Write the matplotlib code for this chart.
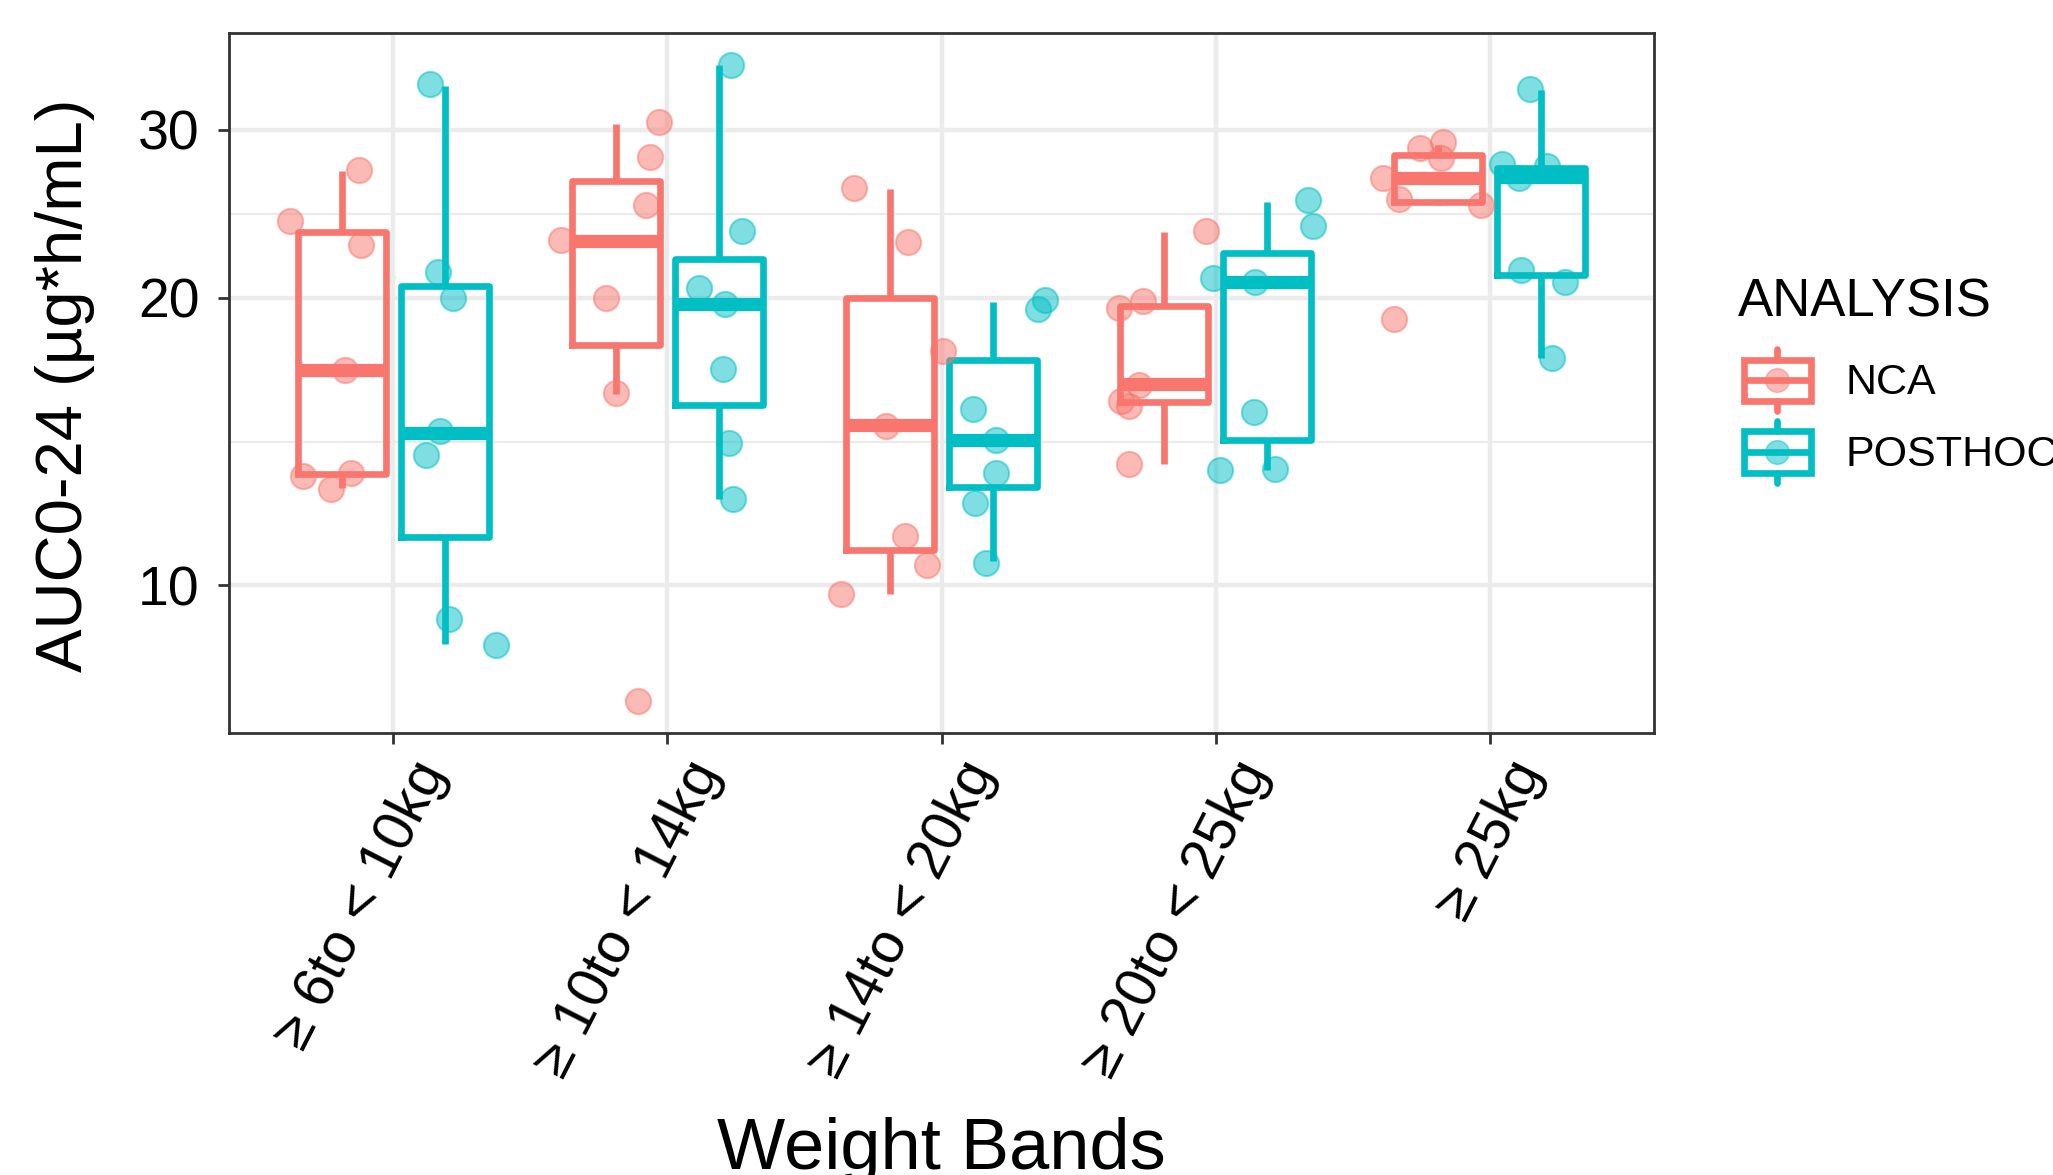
import numpy as np
import matplotlib
matplotlib.use("Agg")
import matplotlib.pyplot as plt
import matplotlib.transforms as mtransforms
from matplotlib.patches import Rectangle
from matplotlib.lines import Line2D
from matplotlib.legend_handler import HandlerBase
from matplotlib.ticker import FixedLocator, NullFormatter

plt.rcParams['font.family'] = ['Liberation Sans', 'DejaVu Sans']

# categories
bands = ["\u2265 6to < 10kg", "\u2265 10to < 14kg", "\u2265 14to < 20kg",
         "\u2265 20to < 25kg", "\u2265 25kg"]
analysis = ["NCA", "POSTHOC"]
colors = {"NCA": "#F8766D", "POSTHOC": "#00BFC4"}

# individual AUC values
nca_points = [
    [24.1, 27.2, 22.7, 16.8, 13.0, 13.1, 12.6],
    [30.6, 28.1, 25.0, 23.0, 20.0, 15.9, 7.56],
    [26.1, 22.9, 17.6, 14.7, 11.25, 10.5, 9.8],
    [23.5, 19.85, 19.5, 16.2, 15.6, 15.4, 13.4],
    [28.7, 29.1, 28.0, 26.7, 25.4, 25.0, 19.0],
]
nca_jitter = [
    [-0.19, 0.062, 0.07, 0.011, -0.143, 0.033, -0.041],
    [0.155, 0.124, 0.109, -0.2, -0.036, 0.0, 0.079],
    [-0.131, 0.064, 0.194, -0.015, 0.055, 0.136, -0.178],
    [0.153, -0.078, -0.163, -0.091, -0.156, -0.13, -0.13],
    [-0.068, 0.019, 0.01, -0.2, -0.143, 0.158, -0.163],
]
posthoc_points = [
    [33.5, 21.3, 20.0, 14.5, 13.7, 9.22, 8.66],
    [35.1, 23.5, 20.5, 19.7, 16.85, 14.1, 12.3],
    [19.9, 19.45, 15.3, 14.2, 13.1, 12.2, 10.55],
    [25.3, 23.8, 21.0, 20.8, 15.2, 13.2, 13.25],
    [33.1, 27.65, 27.5, 26.7, 21.4, 20.8, 17.3],
]
posthoc_jitter = [
    [-0.053, -0.025, 0.029, -0.016, -0.068, 0.017, 0.187],
    [0.046, 0.085, -0.073, 0.022, 0.015, 0.036, 0.051],
    [0.189, 0.165, -0.072, 0.013, 0.011, -0.065, -0.025],
    [0.151, 0.167, -0.196, -0.044, -0.047, -0.17, 0.031],
    [-0.041, -0.141, 0.021, -0.079, -0.073, 0.086, 0.041],
]

# box statistics (log scale): q1, median, q3, lower whisker, upper whisker
nca_q1 = [13.07, 17.85, 10.89, 15.55, 25.23]
nca_med = [16.8, 22.96, 14.71, 16.24, 26.72]
nca_q3 = [23.43, 26.51, 20.0, 19.63, 28.23]
nca_lo = [12.64, 15.86, 9.8, 13.39, 25.0]
nca_hi = [27.16, 30.44, 26.02, 23.43, 28.9]

posthoc_q1 = [11.22, 15.46, 12.67, 14.2, 21.13]
posthoc_med = [14.44, 19.71, 14.2, 20.79, 26.8]
posthoc_q3 = [20.56, 21.97, 17.23, 22.27, 27.35]
posthoc_lo = [8.68, 12.3, 10.59, 13.21, 17.32]
posthoc_hi = [33.32, 35.06, 19.82, 25.23, 33.0]

groups = {
    "NCA": (nca_points, nca_jitter, nca_q1, nca_med, nca_q3, nca_lo, nca_hi, -0.1875),
    "POSTHOC": (posthoc_points, posthoc_jitter, posthoc_q1, posthoc_med,
                posthoc_q3, posthoc_lo, posthoc_hi, 0.1875),
}

W, H = 2053, 1175
fig = plt.figure(figsize=(W / 100, H / 100), dpi=100)
ax = fig.add_axes([229 / W, 1 - 733 / H, (1654 - 229) / W, (733 - 33) / H])

x = np.arange(1, len(bands) + 1)
lw_box = 4.8

for name, (pts, jit, q1, med, q3, lo, hi, off) in groups.items():
    c = colors[name]
    stats = [dict(q1=q1[i], med=med[i], q3=q3[i], whislo=lo[i], whishi=hi[i])
             for i in range(len(bands))]
    ax.bxp(stats, positions=x + off, widths=0.32, showfliers=False, showcaps=False,
           boxprops=dict(color=c, lw=lw_box),
           whiskerprops=dict(color=c, lw=lw_box, solid_capstyle='butt'),
           medianprops=dict(color=c, lw=9.5, solid_capstyle='butt'),
           manage_ticks=False)
    for i in range(len(bands)):
        xs = x[i] + off + np.array(jit[i])
        ax.scatter(xs, pts[i], s=330, facecolor=c, edgecolor=c, alpha=0.5,
                   lw=1.5, zorder=4)

ax.set_yscale('log')
ax.set_ylim(7.0, 37.9)
ax.set_xlim(0.4, 5.6)
ax.set_yticks([10, 20, 30])
ax.set_yticklabels(["10", "20", "30"])
ax.yaxis.set_minor_locator(FixedLocator([np.sqrt(10 * 20), np.sqrt(20 * 30)]))
ax.yaxis.set_minor_formatter(NullFormatter())
ax.set_xticks(x)
ax.set_xticklabels(bands, rotation=63, ha='right', va='top', rotation_mode='anchor')

ax.grid(which='major', color='#EBEBEB', lw=3.2)
ax.grid(which='minor', axis='y', color='#EBEBEB', lw=1.6)
ax.set_axisbelow(True)
for s in ax.spines.values():
    s.set_color('#333333')
    s.set_linewidth(2)
ax.tick_params(which='major', length=8, width=2, color='#333333',
               labelcolor='black')
ax.tick_params(axis='y', which='major', labelsize=40, pad=13)
ax.tick_params(axis='x', which='major', labelsize=41, pad=6)
ax.tick_params(which='minor', length=0)

# nudge the rotated band labels a little to the right, as in the reference
shift = mtransforms.ScaledTranslation(0.16, 0, fig.dpi_scale_trans)
for lab in ax.get_xticklabels():
    lab.set_transform(lab.get_transform() + shift)

fig.text(65 / W, 1 - 385 / H, "AUC0-24 (\u00b5g*h/mL)", rotation=90,
         ha='center', va='center', fontsize=47)
fig.text(941 / W, 6 / H, "Weight Bands", ha='center', va='baseline', fontsize=52)


class BoxKey(HandlerBase):
    def create_artists(self, legend, orig_handle, xdescent, ydescent,
                       width, height, fontsize, trans):
        c = orig_handle.get_color()
        x0, y0 = -xdescent, -ydescent
        cx, cy = x0 + width / 2, y0 + height / 2
        bh = height * 0.66
        rect = Rectangle((x0, cy - bh / 2), width, bh, fill=False, ec=c,
                         lw=lw_box, transform=trans)
        med_line = Line2D([x0, x0 + width], [cy, cy], color=c, lw=lw_box,
                          solid_capstyle='butt', transform=trans)
        top = Line2D([cx, cx], [cy + bh / 2, y0 + height], color=c, lw=lw_box,
                     solid_capstyle='round', transform=trans)
        bot = Line2D([cx, cx], [cy - bh / 2, y0], color=c, lw=lw_box,
                     solid_capstyle='round', transform=trans)
        dot = Line2D([cx], [cy], marker='o', ms=17, ls='', mfc=c, mec=c,
                     alpha=0.5, transform=trans)
        return [rect, med_line, top, bot, dot]


fig.text(1738 / W, 1 - 317 / H, "ANALYSIS", ha='left', va='baseline', fontsize=38)
handles = [Line2D([], [], color=colors[n]) for n in analysis]
leg = fig.legend(handles, analysis, loc='upper left',
                 bbox_to_anchor=(1744 / W, 1 - 349 / H), frameon=False,
                 borderpad=0, borderaxespad=0, fontsize=31,
                 handlelength=1.55, handleheight=1.85, handletextpad=0.8,
                 labelspacing=0.22, handler_map={Line2D: BoxKey()})

fig.savefig("out.png", dpi=100)
